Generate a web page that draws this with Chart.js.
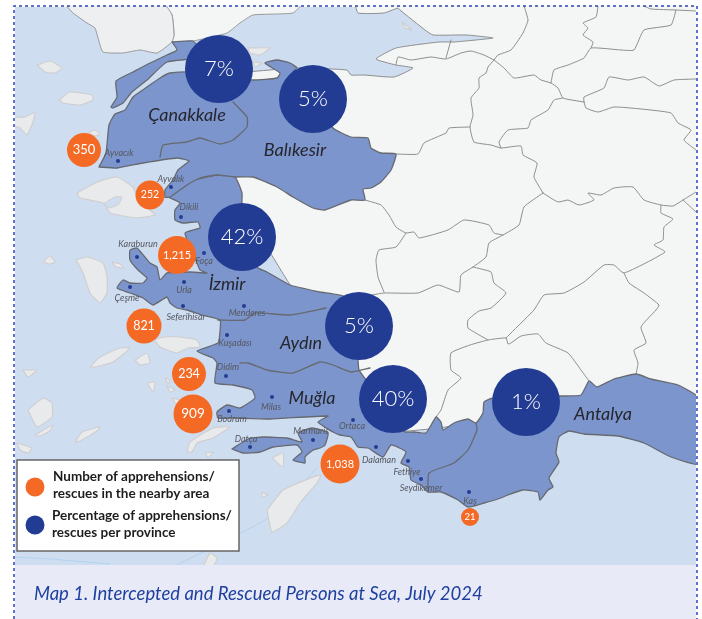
<!DOCTYPE html>
<html>
<head>
<meta charset="utf-8">
<title>Map 1</title>
<style>
  body { margin: 0; background: #fff; }
  canvas { display: block; }
</style>
<script src="https://cdn.jsdelivr.net/npm/chart.js@4"></script>
</head>
<body>
<canvas id="mapa" width="702" height="619"></canvas>
<script>
// valores de las burbujas
const provinceNames = ["Çanakkale", "Balıkesir", "İzmir", "Aydın", "Muğla", "Antalya"];
const provincePct = [7, 5, 42, 5, 40, 1];
const provinceX = [219, 313, 242, 359, 393, 526];
const provinceY = [69, 99, 237, 326, 399, 402];
const areaCounts = [350, 252, 1215, 821, 234, 909, 1038, 21];
const areaX = [84, 150, 177, 144, 189, 193, 340, 470];
const areaY = [150, 195, 255, 326, 374, 414, 464, 517];
const areaR = [17, 14.5, 19, 17.5, 17, 19.5, 19.5, 9];
const areaFont = [13, 10.5, 11, 12.5, 12.5, 13.5, 11, 9.5];

// nombres de provincia sobre el mapa
const nameX = [187, 295, 227, 301, 312, 603];
const nameY = [115, 150, 284, 343, 398, 414];

// ciudades
const towns = ["Ayvacık", "Ayvalık", "Dikili", "Karaburun", "Foça", "Çeşme", "Urla", "Seferihisar", "Menderes", "Kuşadası", "Didim", "Milas", "Bodrum", "Datça", "Marmaris", "Ortaca", "Dalaman", "Fethiye", "Seydikemer", "Kaş"];
const townX = [118, 171, 181, 137, 204, 130, 184, 183, 244, 227, 226, 272, 229, 250, 313, 353, 376, 408, 421, 469];
const townY = [161, 187, 217, 257, 253, 287, 282, 306, 306, 335, 376, 397, 411, 447, 440, 420, 447, 461, 479, 492];
const townLabelX = [119, 171, 189, 138, 204, 127, 184, 186, 247, 235, 228, 271, 232, 246, 311, 352, 379, 407, 421, 470];
const townLabelY = [153, 179, 207, 244, 261, 298, 290, 317, 313, 343, 367, 407, 419, 439, 431, 426, 460, 472, 488, 501];

// contornos del mapa
const landEast = [[355,3],[358,13],[384,13],[398,8],[400,10],[425,30],[433,35],[466,35],[493,38],[454,42],[439,42],[396,48],[376,59],[396,65],[413,68],[394,77],[364,75],[351,75],[347,70],[297,68],[200,76],[160,78],[200,100],[220,130],[240,200],[300,300],[340,340],[380,430],[500,420],[600,415],[700,420],[700,3],[355,3]];
const thraceGreek = [[64,3],[73,13],[87,23],[95,28],[98,38],[103,52],[123,53],[140,50],[157,53],[172,42],[174,35],[172,15],[163,3],[64,3]];
const thraceTurkey = [[163,3],[172,15],[174,35],[172,42],[193,41],[207,38],[227,33],[240,23],[253,15],[293,13],[302,3],[163,3]];
const gallipoli = [[172,42],[193,41],[200,50],[198,58],[167,62],[147,80],[132,92],[123,103],[113,108],[111,107],[117,97],[116,81],[133,72],[150,63],[167,55],[177,50],[172,42]];
const northProvinces = [[99,167],[106,153],[109,125],[115,114],[125,110],[133,97],[147,87],[160,78],[170,73],[187,72],[200,76],[253,80],[277,78],[280,73],[265,63],[277,60],[290,63],[297,68],[293,72],[333,128],[351,137],[368,138],[371,148],[381,153],[396,154],[391,170],[381,182],[371,188],[363,189],[365,200],[351,200],[325,210],[313,208],[293,197],[277,187],[253,177],[235,177],[217,175],[200,178],[187,185],[170,197],[165,197],[165,190],[173,180],[178,170],[189,161],[177,158],[143,163],[117,168],[99,167]];
const southProvinces = [[168,197],[188,182],[217,175],[235,177],[242,193],[242,203],[257,267],[267,272],[290,285],[320,292],[345,297],[355,340],[358,360],[359,370],[366,380],[390,420],[405,432],[414,432],[426,433],[436,417],[441,422],[443,430],[454,423],[468,419],[476,423],[483,413],[484,402],[493,398],[559,396],[581,395],[589,381],[597,387],[614,379],[636,374],[651,379],[678,385],[700,399],[700,464],[671,457],[644,443],[618,436],[584,434],[569,431],[559,437],[556,453],[559,462],[549,478],[553,487],[548,490],[540,500],[538,492],[523,490],[508,495],[498,499],[484,503],[468,507],[458,500],[441,492],[428,492],[421,485],[411,480],[409,467],[401,463],[406,452],[391,445],[383,457],[368,448],[358,447],[351,437],[340,435],[333,432],[318,422],[328,416],[270,419],[233,418],[218,418],[217,412],[227,405],[240,408],[255,398],[252,390],[233,385],[215,383],[217,363],[213,358],[197,351],[218,343],[220,332],[220,320],[202,315],[187,310],[177,308],[170,303],[167,297],[153,305],[143,298],[130,293],[117,288],[123,280],[130,283],[143,283],[147,278],[138,270],[130,260],[130,250],[137,248],[150,263],[157,267],[160,280],[167,273],[190,272],[207,273],[200,270],[197,263],[185,233],[200,228],[198,222],[183,223],[175,220],[175,210],[180,203],[168,197]];
const datcaMarmaris = [[232,449],[248,439],[263,437],[287,438],[302,442],[298,433],[312,428],[328,433],[325,445],[320,448],[313,450],[305,457],[305,463],[293,460],[302,452],[297,445],[273,447],[260,452],[243,453],[232,449]];

const provinceBorders = [
  [[233,102],[247,117],[247,127],[233,140],[220,144],[200,138],[187,142],[163,145],[160,157]],
  [[218,320],[245,320],[255,313],[290,315],[326,308]],
  [[240,363],[248,363],[267,370],[293,373],[320,362],[333,365],[351,372],[370,368]],
  [[476,423],[477,430],[468,450],[454,463],[429,473],[428,492]]
];

const landBorders = [
  [[451,40],[446,58]],
  [[396,65],[398,57],[411,60],[431,57],[446,59],[461,53],[471,51],[484,55],[494,60]],
  [[494,60],[498,55],[511,50],[523,33],[528,20],[524,6]],
  [[494,60],[504,68],[514,78],[534,75],[541,80],[551,83],[558,88],[563,98],[584,102]],
  [[551,83],[554,70],[568,65],[584,58],[591,48],[621,50],[634,50],[644,30],[671,25],[676,10]],
  [[591,48],[593,42],[583,35],[588,28],[583,23],[596,17],[598,6]],
  [[644,6],[651,9],[676,10],[696,11]],
  [[494,60],[488,67],[486,73],[479,78],[479,88],[471,98],[473,115],[470,127],[474,142],[491,145],[501,148],[521,146],[523,155],[537,163],[534,177],[543,193]],
  [[396,154],[418,154],[424,143],[446,133],[449,128],[470,127]],
  [[501,148],[499,142],[508,130],[528,128],[531,120],[548,110],[554,100],[563,98]],
  [[584,102],[586,108],[598,112],[614,107],[641,109],[671,113],[678,123],[691,130],[684,140],[696,150]],
  [[584,102],[584,97],[604,88],[609,77],[628,80],[644,77],[659,86],[674,80],[696,79]],
  [[543,193],[558,202],[568,200],[579,205],[594,200],[588,193],[601,195],[614,188],[633,187],[644,200],[661,205],[673,206],[683,200],[696,192]],
  [[683,200],[696,212]],
  [[661,205],[661,213],[673,219],[664,227],[663,240],[654,245],[665,252],[624,273],[614,265],[604,265],[584,282],[564,293],[544,295],[534,310],[514,330],[506,338]],
  [[543,193],[524,207],[519,225],[503,235],[489,243],[486,257],[473,267],[461,275],[459,292],[438,285],[418,293],[384,293],[372,295]],
  [[503,235],[494,233],[489,225],[464,220],[448,230],[419,238],[414,232],[406,233],[396,227],[389,215],[381,205],[365,200]],
  [[406,233],[396,247],[379,250],[376,260],[378,277],[384,292]],
  [[473,267],[491,272],[494,283],[506,293],[491,308],[479,311],[468,320],[468,328],[488,340]],
  [[624,273],[629,283],[644,293],[659,305],[656,310],[641,327],[646,343],[634,350],[638,363],[636,374]],
  [[436,417],[441,410],[448,390],[461,378],[451,370],[451,353],[470,345],[488,340],[506,338],[508,344],[511,343],[521,336],[538,334],[546,343],[568,353],[581,370],[589,381]]
];

const islands = [
  [[37,65],[50,61],[62,68],[55,73],[45,72],[37,65]],
  [[59,100],[70,92],[92,95],[93,100],[80,105],[63,103],[59,100]],
  [[12,117],[25,117],[35,112],[33,122],[27,135],[20,128],[12,125],[12,117]],
  [[88,133],[95,130],[100,134],[95,136],[88,133]],
  [[77,193],[97,182],[117,177],[133,187],[137,197],[150,210],[155,215],[137,218],[110,213],[103,203],[80,198],[77,193]],
  [[76,260],[87,257],[103,263],[107,277],[107,293],[100,303],[90,293],[83,273],[76,260]],
  [[43,262],[50,256],[55,262],[50,264],[43,262]],
  [[112,262],[120,264],[124,268],[116,267],[112,262]],
  [[154,340],[163,337],[180,337],[197,340],[200,347],[188,348],[177,353],[160,347],[154,340]],
  [[90,367],[100,357],[120,348],[130,348],[113,362],[95,367],[90,367]],
  [[135,360],[147,353],[150,363],[140,365],[135,360]],
  [[23,370],[37,370],[28,377],[23,370]],
  [[147,383],[155,382],[153,392],[147,383]],
  [[165,378],[170,380],[168,384],[165,378]],
  [[167,386],[175,390],[170,392],[167,386]],
  [[172,398],[180,400],[176,404],[172,398]],
  [[28,410],[43,398],[52,403],[52,417],[37,427],[28,410]],
  [[35,435],[45,429],[53,425],[50,431],[40,436],[35,435]],
  [[75,442],[82,432],[100,427],[97,431],[80,441],[75,442]],
  [[187,452],[190,442],[213,428],[230,427],[213,438],[197,443],[192,452],[187,452]],
  [[17,443],[32,448],[28,453],[20,450],[17,443]],
  [[205,453],[213,452],[208,458],[205,453]],
  [[272,458],[283,453],[283,467],[272,458]],
  [[267,510],[283,490],[313,477],[321,475],[317,483],[300,503],[287,523],[272,532],[267,510]],
  [[203,567],[210,553],[217,558],[213,567],[203,567]],
  [[262,492],[268,495],[262,497],[262,492]],
  [[248,48],[270,48],[260,55],[250,53],[248,48]],
  [[253,62],[262,63],[255,67],[253,62]],
  [[402,22],[412,30],[405,28],[402,22]]
];
const lesbosBay = [[105,203],[115,197],[122,197],[118,205],[108,208],[105,203]];
const maritimeLines = [
  [[15,557],[50,559],[110,564]],
  [[177,565],[270,517],[317,468]]
];

function poly(points, fillColor, strokeColor, width, order) {
  return {
    type: "scatter",
    data: points,
    showLine: true,
    fill: fillColor ? "shape" : false,
    backgroundColor: fillColor || "transparent",
    borderColor: strokeColor,
    borderWidth: width,
    borderJoinStyle: "round",
    borderCapStyle: "round",
    tension: 0.15,
    pointRadius: 0,
    order: order,
  };
}

const datasets = [];
maritimeLines.forEach((l) => datasets.push(poly(l, null, "#a8d0ef", 0.8, 90)));
islands.forEach((p) => datasets.push(poly(p, "#e9eaec", "#cfcfd1", 1.2, 80)));
datasets.push(poly(lesbosBay, "#cfddf1", "#cfcfd1", 1, 79));
datasets.push(poly(thraceGreek, "#eeeff1", "#9a9a9a", 1, 70));
datasets.push(poly(thraceTurkey, "#f4f6f6", "#9a9a9a", 1, 70));
datasets.push(poly(landEast, "#f4f6f6", "#8e8e8e", 1, 70));
landBorders.forEach((l) => datasets.push(poly(l, null, "#8e8e8e", 1, 60)));
datasets.push(poly(gallipoli, "#7c95cc", "#666a70", 1.3, 50));
datasets.push(poly(northProvinces, "#7c95cc", "#666a70", 1.3, 50));
datasets.push(poly(southProvinces, "#7c95cc", "#666a70", 1.3, 50));
datasets.push(poly(datcaMarmaris, "#7c95cc", "#666a70", 1.3, 50));
provinceBorders.forEach((l) => datasets.push(poly(l, null, "#666a70", 1.3, 40)));

datasets.push({
  type: "bubble",
  data: townX.map((x, i) => ({ x: x, y: townY[i], r: 2 })),
  backgroundColor: "#223c93",
  borderWidth: 0,
  order: 30,
});
datasets.push({
  type: "bubble",
  data: provinceX.map((x, i) => ({ x: x, y: provinceY[i], r: 34 })),
  backgroundColor: "#223c93",
  borderWidth: 0,
  order: 10,
});
datasets.push({
  type: "bubble",
  data: areaX.map((x, i) => ({ x: x, y: areaY[i], r: areaR[i] })),
  backgroundColor: "#f46a25",
  borderWidth: 0,
  order: 10,
});

const fondo = {
  id: "fondo",
  beforeDatasetsDraw(chart) {
    const ctx = chart.ctx;
    ctx.save();
    ctx.fillStyle = "#cfddf1";
    ctx.fillRect(15, 7, 681, 559);
    ctx.restore();
  },
  afterDatasetsDraw(chart) {
    const ctx = chart.ctx;
    const sx = chart.scales.x;
    const sy = chart.scales.y;
    ctx.save();

    // margen blanco alrededor del mapa
    ctx.fillStyle = "#fff";
    ctx.fillRect(0, 0, 702, 6);
    ctx.fillRect(0, 0, 15, 619);
    ctx.fillRect(696, 0, 6, 619);

    // franja del titulo
    ctx.fillStyle = "#e8ebf7";
    ctx.fillRect(15, 565, 681, 54);
    ctx.fillStyle = "#1e3f9e";
    ctx.font = "italic 18.5px Lato";
    ctx.textAlign = "left";
    ctx.textBaseline = "alphabetic";
    ctx.fillText("Map 1. Intercepted and Rescued Persons at Sea, July 2024", 34, 600);

    // ciudades
    ctx.textAlign = "center";
    ctx.textBaseline = "middle";
    ctx.fillStyle = "#55585f";
    ctx.font = "italic 9px Lato";
    towns.forEach((t, i) => {
      ctx.fillText(t, sx.getPixelForValue(townLabelX[i]), sy.getPixelForValue(townLabelY[i]));
    });

    // provincias
    ctx.fillStyle = "#25262e";
    ctx.font = "italic 18px Lato";
    provinceNames.forEach((n, i) => {
      ctx.fillText(n, sx.getPixelForValue(nameX[i]), sy.getPixelForValue(nameY[i]));
    });

    // burbujas
    ctx.fillStyle = "#fff";
    ctx.font = "300 22px Lato";
    provincePct.forEach((v, i) => {
      ctx.fillText(v + "%", sx.getPixelForValue(provinceX[i]), sy.getPixelForValue(provinceY[i]));
    });
    areaCounts.forEach((v, i) => {
      ctx.font = areaFont[i] + "px Lato";
      ctx.fillText(v.toLocaleString("en-US"), sx.getPixelForValue(areaX[i]), sy.getPixelForValue(areaY[i]));
    });

    // leyenda
    ctx.fillStyle = "#fff";
    ctx.strokeStyle = "#666";
    ctx.lineWidth = 1.5;
    ctx.fillRect(17, 460, 222, 91);
    ctx.strokeRect(17, 460, 222, 91);
    ctx.fillStyle = "#f46a25";
    ctx.beginPath();
    ctx.arc(35, 487, 9.5, 0, Math.PI * 2);
    ctx.fill();
    ctx.fillStyle = "#223c93";
    ctx.beginPath();
    ctx.arc(35, 525, 9.5, 0, Math.PI * 2);
    ctx.fill();
    ctx.fillStyle = "#1d1d1f";
    ctx.font = "bold 13.5px Lato";
    ctx.textAlign = "left";
    ctx.fillText("Number of apprehensions/", 53, 477);
    ctx.fillText("rescues in the nearby area", 53, 494);
    ctx.fillText("Percentage of apprehensions/", 52, 516);
    ctx.fillText("rescues per province", 52, 533);

    // borde punteado
    ctx.strokeStyle = "#2b44b5";
    ctx.lineWidth = 1.5;
    ctx.setLineDash([3, 3]);
    ctx.beginPath();
    ctx.moveTo(14, 619);
    ctx.lineTo(14, 6);
    ctx.lineTo(697, 6);
    ctx.lineTo(697, 619);
    ctx.stroke();
    ctx.restore();
  },
};

new Chart(document.getElementById("mapa"), {
  data: { datasets: datasets },
  options: {
    responsive: false,
    animation: false,
    layout: { padding: 0, autoPadding: false },
    scales: {
      x: { type: "linear", display: false, min: 0, max: 702 },
      y: { type: "linear", display: false, min: 0, max: 619, reverse: true },
    },
    plugins: {
      legend: { display: false },
      tooltip: { enabled: false },
    },
  },
  plugins: [fondo],
});
</script>
</body>
</html>
